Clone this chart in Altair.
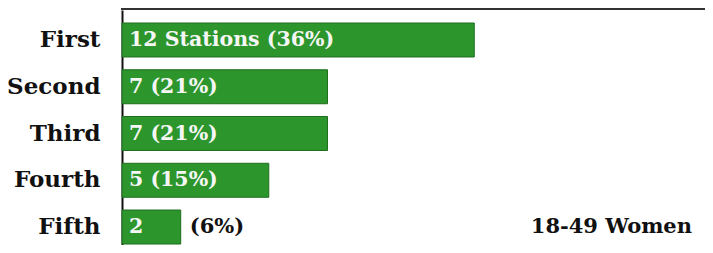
import altair as alt
import pandas as pd

ranks = ["First", "Second", "Third", "Fourth", "Fifth"]
stations = [12, 7, 7, 5, 2]
inside_labels = ["12 Stations (36%)", "7 (21%)", "7 (21%)", "5 (15%)", "2"]
outside_labels = ["", "", "", "", "(6%)"]
note_text = ["18-49 Women"]
note_row = ["Fifth"]

df = pd.DataFrame({
    "rank": ranks,
    "stations": stations,
    "inside": inside_labels,
    "outside": outside_labels,
})
note_df = pd.DataFrame({"note": note_text, "rank": note_row})

FONT = "DejaVu Serif"
GREEN = "#2c962c"

y_enc = alt.Y(
    "rank:N",
    sort=ranks,
    title=None,
    scale=alt.Scale(paddingInner=0.273, paddingOuter=0.1495, align=0.93),
    axis=alt.Axis(
        ticks=False, tickSize=0, labelPadding=22, labelFont=FONT,
        labelFontSize=23, labelFontWeight="bold", labelColor="#111111",
        domainColor="#111111", domainWidth=2, grid=False,
    ),
)
x_scale = alt.Scale(domain=[0, 19.86], nice=False, zero=True)

bars = alt.Chart(df).mark_bar(
    color=GREEN, stroke="#1e6e1e", strokeWidth=1
).encode(
    x=alt.X("stations:Q", scale=x_scale, title=None, axis=None),
    y=y_enc,
)

top_line = alt.Chart(note_df).mark_rule(
    color="#333333", strokeWidth=2
).encode(
    x=alt.value(-1), x2=alt.value(600), y=alt.value(-1), y2=alt.value(-1),
)

inside = alt.Chart(df).mark_text(
    align="left", baseline="middle", dx=7, font=FONT, fontSize=20.5,
    fontWeight="bold", color="#f6f6f6",
).encode(
    x=alt.value(0),
    y=alt.Y("rank:N", sort=ranks),
    text="inside:N",
)

outside = alt.Chart(df).mark_text(
    align="left", baseline="middle", dx=9, font=FONT, fontSize=21,
    fontWeight="bold", color="#111111",
).encode(
    x=alt.X("stations:Q", scale=x_scale, axis=None),
    y=alt.Y("rank:N", sort=ranks),
    text="outside:N",
)

note = alt.Chart(note_df).mark_text(
    align="right", baseline="middle", font=FONT, fontSize=21,
    fontWeight="bold", color="#111111",
).encode(
    x=alt.value(570),
    y=alt.Y("rank:N", sort=ranks),
    text="note:N",
)

chart = alt.layer(bars, top_line, inside, outside, note).properties(
    width=583,
    height=235,
    autosize=alt.AutoSizeParams(type="none"),
    padding={"left": 114, "top": 2, "right": 0, "bottom": 0},
    background="white",
).configure_view(strokeWidth=0)

chart.save("out.html", embed_options={"renderer": "svg", "actions": False})
